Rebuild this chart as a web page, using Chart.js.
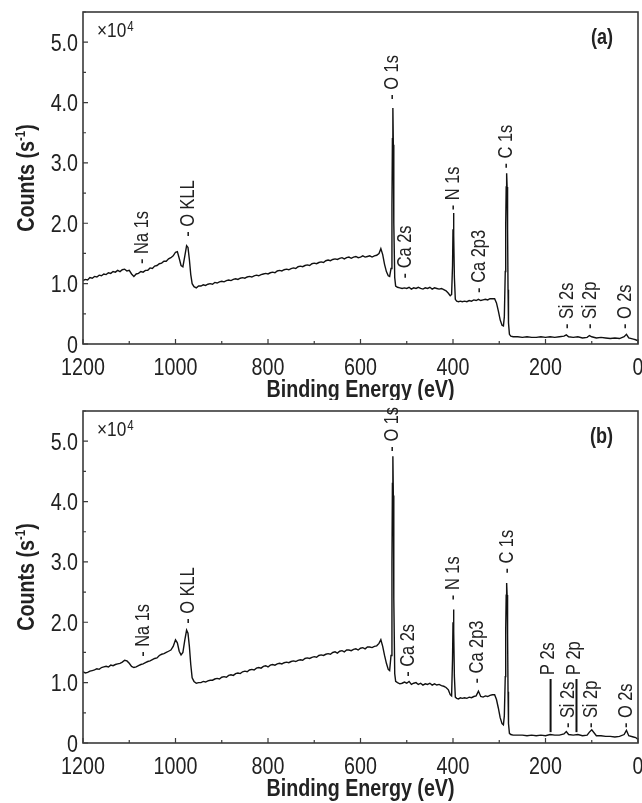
<!DOCTYPE html>
<html>
<head>
<meta charset="utf-8">
<title>XPS survey spectra</title>
<script src="https://cdn.jsdelivr.net/npm/chart.js@4.4.1/dist/chart.umd.min.js"></script>
<style>
  html, body { margin: 0; padding: 0; background: #fff; }
  #wrap { position: relative; width: 642px; height: 803px; }
  canvas { position: absolute; left: 0; }
  #chartA { top: 0; }
  #chartB { top: 400px; }
</style>
</head>
<body>
<div id="wrap">
  <canvas id="chartA" width="642" height="400"></canvas>
  <canvas id="chartB" width="642" height="403"></canvas>
</div>
<script>
// binding energy grid (eV), shared by both survey scans
var Energy = [
  1200,1195,1190,1185,1180,1175,1170,1165,1160,1155,1150,1145,1140,1135,1130,1125,1120,1115,1110,1105,
  1100,1095,1090,1085,1080,1075,1070,1065,1060,1055,1050,1045,1040,1035,1030,1025,1020,1015,1010,
  1005,1000,996,992,988,984,980,976,973,970,967,964,960,955,950,
  945,940,935,930,925,920,915,910,905,900,895,890,885,880,875,870,865,860,855,850,
  845,840,835,830,825,820,815,810,805,800,795,790,785,780,775,770,765,760,755,750,
  745,740,735,730,725,720,715,710,705,700,695,690,685,680,675,670,665,660,655,650,
  645,640,635,630,625,620,615,610,605,600,595,590,585,580,575,570,
  565,560,556,552,548,544,540,537,534,532,531,530,529,528,526,524,520,515,510,
  505,500,495,490,485,480,475,470,465,460,455,450,445,440,435,430,425,420,
  415,410,406,403,401,400,399,398,397,395,392,388,384,380,
  375,370,365,360,355,350,345,340,335,330,325,320,
  315,310,306,302,298,294,291,289,287,286,285,284,283,282,281,280,278,275,270,
  260,250,240,230,220,210,200,190,180,170,160,155,150,140,130,120,110,105,100,90,80,70,60,50,40,30,25,20,10,5,0
]

// counts, x10^4 s^-1
var CountsA = [
  1.05,1.07,1.06,1.10,1.09,1.12,1.11,1.14,1.13,1.16,1.15,1.18,1.17,1.20,1.19,1.22,1.20,1.23,1.24,1.21,
  1.22,1.16,1.12,1.16,1.17,1.20,1.19,1.22,1.22,1.26,1.25,1.29,1.30,1.33,1.34,1.37,1.37,1.41,1.43,
  1.46,1.52,1.53,1.42,1.30,1.28,1.45,1.63,1.60,1.40,1.15,1.00,0.95,0.93,0.96,
  0.96,0.98,0.97,0.99,1.00,0.99,1.02,1.01,1.03,1.04,1.03,1.05,1.06,1.05,1.07,1.08,1.07,1.09,1.10,1.09,
  1.11,1.12,1.11,1.13,1.14,1.13,1.15,1.16,1.17,1.16,1.18,1.19,1.18,1.21,1.22,1.21,1.23,1.24,1.23,1.25,
  1.26,1.25,1.28,1.29,1.28,1.30,1.31,1.30,1.33,1.34,1.33,1.35,1.36,1.35,1.38,1.39,1.38,1.40,1.41,1.40,
  1.42,1.43,1.41,1.43,1.44,1.42,1.44,1.45,1.43,1.44,1.46,1.44,1.45,1.46,1.44,1.46,
  1.47,1.50,1.58,1.48,1.32,1.20,1.13,1.12,1.25,2.30,3.40,3.91,3.30,2.00,1.10,0.96,0.94,0.93,0.92,
  0.93,0.92,0.94,0.91,0.93,0.92,0.94,0.92,0.91,0.93,0.92,0.94,0.91,0.93,0.92,0.91,0.92,0.90,
  0.88,0.84,0.80,0.82,1.30,1.90,2.17,1.80,1.10,0.74,0.71,0.70,0.71,0.70,
  0.71,0.70,0.72,0.71,0.73,0.72,0.74,0.72,0.73,0.74,0.73,0.75,
  0.75,0.75,0.68,0.55,0.40,0.31,0.30,0.45,1.20,2.00,2.60,2.83,2.60,1.90,0.90,0.35,0.16,0.13,0.12,
  0.12,0.11,0.12,0.11,0.11,0.12,0.11,0.12,0.11,0.12,0.13,0.15,0.12,0.11,0.12,0.10,0.11,0.14,0.12,0.10,0.11,0.10,0.09,0.10,0.09,0.12,0.16,0.10,0.08,0.07,0.05
]

var CountsB = [
  1.18,1.16,1.17,1.19,1.20,1.21,1.23,1.22,1.25,1.26,1.27,1.26,1.29,1.28,1.30,1.31,1.32,1.34,1.37,1.36,
  1.32,1.27,1.25,1.26,1.28,1.30,1.31,1.33,1.35,1.36,1.38,1.40,1.41,1.45,1.47,1.48,1.50,1.52,1.54,
  1.60,1.71,1.66,1.52,1.46,1.50,1.70,1.87,1.82,1.60,1.30,1.08,1.02,0.99,1.00,
  1.00,1.02,1.01,1.03,1.04,1.04,1.06,1.07,1.06,1.09,1.10,1.09,1.12,1.13,1.12,1.15,1.16,1.15,1.18,1.19,
  1.18,1.21,1.22,1.21,1.24,1.25,1.24,1.27,1.28,1.26,1.29,1.30,1.29,1.31,1.32,1.31,1.33,1.34,1.33,1.35,
  1.36,1.35,1.37,1.38,1.37,1.40,1.41,1.40,1.42,1.43,1.42,1.45,1.46,1.45,1.47,1.48,1.47,1.50,1.51,1.49,
  1.52,1.53,1.51,1.54,1.54,1.53,1.55,1.56,1.54,1.57,1.58,1.56,1.59,1.59,1.58,1.60,
  1.61,1.65,1.71,1.60,1.45,1.32,1.22,1.20,1.45,3.00,4.30,4.75,4.10,2.40,1.15,1.02,1.00,0.98,0.99,
  1.01,0.99,1.02,0.97,0.99,1.00,0.97,0.99,0.96,0.98,0.97,0.99,0.96,0.98,0.96,0.97,0.95,0.94,
  0.92,0.88,0.80,0.78,1.40,2.00,2.21,1.85,1.10,0.76,0.74,0.73,0.75,0.74,
  0.75,0.74,0.76,0.75,0.77,0.78,0.86,0.77,0.76,0.78,0.77,0.79,
  0.80,0.80,0.72,0.58,0.42,0.32,0.30,0.45,1.10,1.90,2.45,2.65,2.45,1.80,0.85,0.32,0.16,0.14,0.13,
  0.13,0.13,0.12,0.13,0.12,0.13,0.12,0.14,0.13,0.13,0.15,0.19,0.14,0.13,0.14,0.12,0.13,0.18,0.22,0.12,0.12,0.11,0.11,0.10,0.11,0.14,0.21,0.12,0.10,0.09,0.06
]

// peak assignments: name, energy, height of the marker dash
var PeakNamesA = ['Na 1s','O KLL','O 1s','Ca 2s','N 1s','Ca 2p3','C 1s','Si 2s','Si 2p','O 2s']
var PeakEnergyA = [1072,973,530,502,400,342,284,152,102,27]
var PeakLevelA = [1.36,1.81,4.08,1.12,2.25,0.88,2.94,0.28,0.28,0.28]

var PeakNamesB = ['Na 1s','O KLL','O 1s','Ca 2s','N 1s','Ca 2p3','C 1s','Si 2s','Si 2p','O 2s']
var PeakEnergyB = [1070,973,530,497,398,346,283,150,100,25]
var PeakLevelB = [1.46,2.01,4.86,1.13,2.40,1.02,2.84,0.28,0.28,0.28]

// phosphorus lines in scan (b), drawn as bars
var BarNamesB = ['P 2s','P 2p']
var BarEnergyB = [189,133]
var BarLowB = [0.18,0.18]
var BarHighB = [1.06,1.06]

if (CountsA.length !== Energy.length || CountsB.length !== Energy.length) {
  throw new Error('length mismatch ' + Energy.length + ' ' + CountsA.length + ' ' + CountsB.length)
}

var FONT = '"Liberation Sans", Arial, sans-serif'
var SQUEEZE = 0.82   // condensed lettering
var INK = '#222'
var FRAME = '#3a3a3a'

function pointsOf(counts) {
  var pts = []
  for (let i = 0; i < Energy.length; i++) {
    pts.push({x: Energy[i], y: counts[i]})
  }
  return pts
}

// text narrowed along its own direction
function narrowText(ctx, text, x, y, font, align, angle) {
  ctx.save()
  ctx.translate(x, y)
  if (angle) ctx.rotate(angle)
  ctx.scale(SQUEEZE, 1)
  ctx.font = font
  ctx.textAlign = align
  ctx.fillText(text, 0, 0)
  ctx.restore()
}

function decorPlugin(peaks, bars, tag) {
  return {
    id: 'decor',
    afterDatasetsDraw: function(chart) {
      var ctx = chart.ctx
      var area = chart.chartArea
      var xs = chart.scales.x
      var ys = chart.scales.y
      ctx.save()

      // frame
      ctx.strokeStyle = FRAME
      ctx.lineWidth = 1.6
      ctx.strokeRect(area.left, area.top, area.right - area.left, area.bottom - area.top)

      // inward ticks, minor ones halfway between the labelled ones
      ctx.lineWidth = 1.2
      ctx.beginPath()
      xs.ticks.forEach(function(t, i) {
        var px = xs.getPixelForValue(t.value)
        ctx.moveTo(px, area.bottom)
        ctx.lineTo(px, area.bottom - 5)
        if (i > 0) {
          var mx = xs.getPixelForValue((t.value + xs.ticks[i - 1].value) / 2)
          ctx.moveTo(mx, area.bottom)
          ctx.lineTo(mx, area.bottom - 3)
        }
      })
      ys.ticks.forEach(function(t) {
        var py = ys.getPixelForValue(t.value)
        ctx.moveTo(area.left, py)
        ctx.lineTo(area.left + 5, py)
        var my = ys.getPixelForValue(t.value + 0.5)
        ctx.moveTo(area.left, my)
        ctx.lineTo(area.left + 3, my)
      })
      ctx.stroke()

      // tick labels
      ctx.fillStyle = INK
      ctx.textBaseline = 'alphabetic'
      xs.ticks.forEach(function(t) {
        narrowText(ctx, String(t.value), xs.getPixelForValue(t.value), area.bottom + 31,
          '24px ' + FONT, 'center')
      })
      ys.ticks.forEach(function(t) {
        var txt = t.value === 0 ? '0' : t.value.toFixed(1)
        narrowText(ctx, txt, area.left - 5, ys.getPixelForValue(t.value) + 8.5,
          '24px ' + FONT, 'right')
      })

      // axis titles
      narrowText(ctx, 'Binding Energy (eV)', (area.left + area.right) / 2, area.bottom + 53,
        'bold 24px ' + FONT, 'center')

      var cy = (area.top + area.bottom) / 2
      ctx.font = 'bold 24px ' + FONT
      var w1 = ctx.measureText('Counts (s').width * SQUEEZE
      var w3 = ctx.measureText(')').width * SQUEEZE
      ctx.font = 'bold 14px ' + FONT
      var w2 = ctx.measureText('-1').width * SQUEEZE
      var total = w1 + w2 + w3
      var up = -Math.PI / 2
      narrowText(ctx, 'Counts (s', 34, cy + total / 2, 'bold 24px ' + FONT, 'left', up)
      narrowText(ctx, '-1', 34 - 9, cy + total / 2 - w1, 'bold 14px ' + FONT, 'left', up)
      narrowText(ctx, ')', 34, cy + total / 2 - w1 - w2, 'bold 24px ' + FONT, 'left', up)

      // peak labels
      ctx.textBaseline = 'middle'
      peaks.names.forEach(function(name, i) {
        var px = xs.getPixelForValue(peaks.energy[i])
        var py = ys.getPixelForValue(peaks.level[i])
        narrowText(ctx, '- ' + name, px, py + 2, '20px ' + FONT, 'left', up)
      })

      // bar markers
      if (bars) {
        ctx.strokeStyle = '#111'
        ctx.lineWidth = 2
        bars.names.forEach(function(name, i) {
          var px = xs.getPixelForValue(bars.energy[i])
          var y0 = ys.getPixelForValue(bars.low[i])
          var y1 = ys.getPixelForValue(bars.high[i])
          ctx.beginPath()
          ctx.moveTo(px, y0)
          ctx.lineTo(px, y1)
          ctx.stroke()
          narrowText(ctx, name, px - 2, y1 - 4, '20px ' + FONT, 'left', up)
        })
      }

      // multiplier and panel tag
      ctx.textBaseline = 'alphabetic'
      narrowText(ctx, '\u00d710', area.left + 14, area.top + 25, '21px ' + FONT, 'left')
      ctx.font = '21px ' + FONT
      var w = ctx.measureText('\u00d710').width * SQUEEZE
      narrowText(ctx, '4', area.left + 14 + w + 1, area.top + 19, '14px ' + FONT, 'left')

      ctx.textBaseline = 'middle'
      narrowText(ctx, tag, area.right - 25, area.top + 26, 'bold 22px ' + FONT, 'right')

      ctx.restore()
    }
  }
}

function drawSpectrum(canvasId, counts, peaks, bars, tag, topPad, axisHeight) {
  var place = document.getElementById(canvasId).getContext('2d')
  new Chart(place, {
    type: 'line',
    data: {
      datasets: [{
        data: pointsOf(counts),
        borderColor: '#111',
        borderWidth: 1.4,
        pointRadius: 0,
        tension: 0,
        fill: false
      }]
    },
    options: {
      responsive: false,
      animation: false,
      events: [],
      layout: { padding: { top: topPad, right: 4, left: 0, bottom: 0 } },
      plugins: { legend: { display: false }, tooltip: { enabled: false } },
      scales: {
        x: {
          type: 'linear',
          reverse: true,
          min: 0,
          max: 1200,
          grid: { display: false, drawTicks: false },
          border: { display: false },
          ticks: { stepSize: 200, display: false },
          afterFit: function(scale) {
            scale.height = axisHeight
            scale.paddingLeft = 0
            scale.paddingRight = 0
          }
        },
        y: {
          min: 0,
          max: 5.5,
          grid: { display: false, drawTicks: false },
          border: { display: false },
          ticks: { stepSize: 1, includeBounds: false, display: false },
          afterFit: function(scale) {
            scale.width = 83
            scale.paddingTop = 0
            scale.paddingBottom = 0
          }
        }
      }
    },
    plugins: [decorPlugin(peaks, bars, tag)]
  })
}

window.onload = function() {
  drawSpectrum('chartA', CountsA,
    { names: PeakNamesA, energy: PeakEnergyA, level: PeakLevelA },
    null, '(a)', 12, 56)
  drawSpectrum('chartB', CountsB,
    { names: PeakNamesB, energy: PeakEnergyB, level: PeakLevelB },
    { names: BarNamesB, energy: BarEnergyB, low: BarLowB, high: BarHighB },
    '(b)', 11, 60)
}
</script>
</body>
</html>
